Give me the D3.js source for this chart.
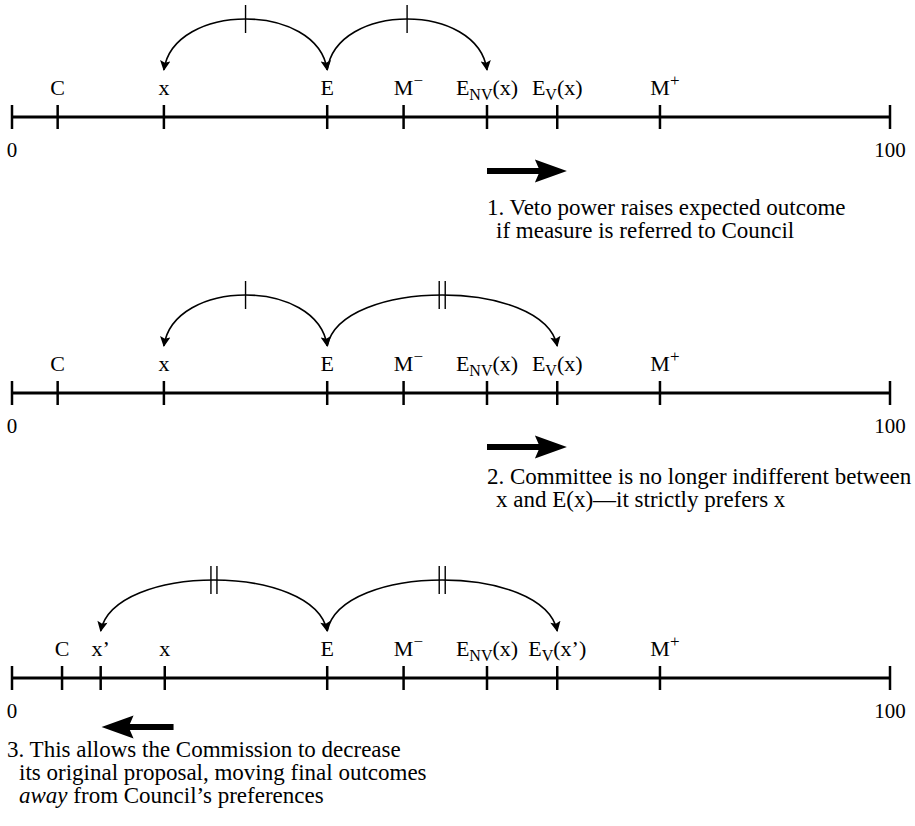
<!DOCTYPE html>
<html>
<head>
<meta charset="utf-8">
<script src="https://cdn.jsdelivr.net/npm/d3@7"></script>
<style>
  body { margin: 0; background: #fff; }
</style>
</head>
<body>
<svg id="chart" width="915" height="826"></svg>
<script>
// Positions on the 0-100 policy line, one array per panel
const labels1 = ['C', 'x', 'E', 'M−', 'ENV(x)', 'EV(x)', 'M+'];
const values1 = [5.2, 17.3, 35.9, 44.6, 54.1, 62.1, 73.8];
const labels2 = ['C', 'x', 'E', 'M−', 'ENV(x)', 'EV(x)', 'M+'];
const values2 = [5.2, 17.3, 35.9, 44.6, 54.1, 62.1, 73.8];
const labels3 = ['C', "x’", 'x', 'E', 'M−', 'ENV(x)', "EV(x’)", 'M+'];
const values3 = [5.7, 10.1, 17.4, 35.9, 44.6, 54.1, 62.1, 73.8];

// Arcs: from -> to (labels), number of equal-distance strokes
const arcs1 = [['E', 'x', 1], ['E', 'ENV(x)', 1]];
const arcs2 = [['E', 'x', 1], ['E', 'EV(x)', 2]];
const arcs3 = [['E', "x’", 2], ['E', "EV(x’)", 2]];

// Shift arrows: [from, to] on the same scale
const shift1 = [54.1, 63.2];
const shift2 = [54.1, 63.2];
const shift3 = [18.4, 10.2];

const notes1 = ['1. Veto power raises expected outcome', 'if measure is referred to Council'];
const notes2 = ['2. Committee is no longer indifferent between', 'x and E(x)—it strictly prefers x'];
const notes3 = ['3. This allows the Commission to decrease', 'its original proposal, moving final outcomes', ['away', ' from Council’s preferences']];

const panels = [
    {labels: labels1, values: values1, arcs: arcs1, shift: shift1, notes: notes1, axisY: 117, noteX: 487, indent: 9, noteY: 215},
    {labels: labels2, values: values2, arcs: arcs2, shift: shift2, notes: notes2, axisY: 393, noteX: 487, indent: 9, noteY: 484},
    {labels: labels3, values: values3, arcs: arcs3, shift: shift3, notes: notes3, axisY: 678, noteX: 7, indent: 12, noteY: 757}
];

const FONT = '"Liberation Serif", "DejaVu Serif", serif';

const svg = d3.select('#chart')
    .attr('font-family', FONT);

const x = d3.scaleLinear()
    .domain([0, 100])
    .range([12, 890]);

svg.append('defs').append('marker')
    .attr('id', 'head')
    .attr('viewBox', '0 0 10 10')
    .attr('refX', 9)
    .attr('refY', 5)
    .attr('markerWidth', 7.5)
    .attr('markerHeight', 6.5)
    .attr('markerUnits', 'strokeWidth')
    .attr('orient', 'auto-start-reverse')
    .append('path')
    .attr('d', 'M0,0 L10,5 L0,10 L2,5 Z')
    .attr('fill', '#000');

// write a label, turning NV / V into subscripts and +/− into superscripts
function addLabel(g, label, px, y) {
    if (label.startsWith('M')) {
        g.append('text')
            .attr('x', px).attr('y', y)
            .attr('text-anchor', 'middle')
            .attr('font-family', FONT)
            .attr('font-size', 22)
            .text('M');
        g.append('text')
            .attr('x', px + 10).attr('y', y - 9)
            .attr('font-family', FONT)
            .attr('font-size', 17)
            .text(label.slice(1));
        return;
    }
    const t = g.append('text')
        .attr('x', px).attr('y', y)
        .attr('text-anchor', 'middle')
        .attr('font-family', FONT)
        .attr('font-size', 22);
    const m = label.match(/^E(NV|V)(.*)$/);
    if (m) {
        t.append('tspan').text('E');
        t.append('tspan').attr('dy', 5).attr('font-size', 16).text(m[1]);
        t.append('tspan').attr('dy', -5).text(m[2]);
    } else {
        t.text(label);
    }
}

panels.forEach(p => {
    const g = svg.append('g').attr('transform', `translate(0,${p.axisY})`);

    // axis line with ticks
    g.append('line')
        .attr('x1', x(0)).attr('x2', x(100))
        .attr('y1', 0).attr('y2', 0)
        .attr('stroke', '#000').attr('stroke-width', 3);

    g.selectAll('.tick')
        .data([0, 100].concat(p.values))
        .enter().append('line')
        .attr('class', 'tick')
        .attr('x1', d => x(d)).attr('x2', d => x(d))
        .attr('y1', -12).attr('y2', 12)
        .attr('stroke', '#000').attr('stroke-width', 2.5);

    [0, 100].forEach(v => {
        g.append('text')
            .attr('x', x(v)).attr('y', 40)
            .attr('text-anchor', 'middle')
            .attr('font-family', FONT)
            .attr('font-size', 21)
            .text(v);
    });

    p.labels.forEach((lab, i) => addLabel(g, lab, x(p.values[i]), -22));

    // arcs between points
    const pos = lab => x(p.values[p.labels.indexOf(lab)]);
    const tipY = -47, peakY = -98;
    const cy = (8 * peakY - 2 * tipY) / 6;
    p.arcs.forEach(([from, to, marks], k) => {
        const x0 = pos(from), x1 = pos(to);
        const d = x1 - x0;
        g.append('path')
            .attr('d', `M${x0},${tipY} C${x0 + d * 0.06},${cy} ${x1 - d * 0.06},${cy} ${x1},${tipY}`)
            .attr('fill', 'none')
            .attr('stroke', '#000')
            .attr('stroke-width', 1.6)
            .attr('marker-end', 'url(#head)')
            .attr('marker-start', k === 0 ? 'url(#head)' : null);
        const mid = (x0 + x1) / 2;
        const offs = marks === 1 ? [0] : [-3, 3];
        offs.forEach(o => {
            g.append('line')
                .attr('x1', mid + o).attr('x2', mid + o)
                .attr('y1', peakY - 14).attr('y2', peakY + 14)
                .attr('stroke', '#000').attr('stroke-width', 1.4);
        });
    });

    // bold shift arrow
    const ay = p.axisY === 678 ? 49 : 54;
    const [s0, s1] = p.shift;
    const dir = Math.sign(x(s1) - x(s0));
    const xt = x(s1), xb = xt - dir * 30;
    g.append('line')
        .attr('x1', x(s0)).attr('x2', xb + dir * 4)
        .attr('y1', ay).attr('y2', ay)
        .attr('stroke', '#000').attr('stroke-width', 6);
    g.append('path')
        .attr('d', `M${xt},${ay} L${xb - dir * 2},${ay - 11.5} L${xb + dir * 3},${ay} L${xb - dir * 2},${ay + 11.5} Z`)
        .attr('fill', '#000');

    // explanatory note
    p.notes.forEach((line, i) => {
        const t = svg.append('text')
            .attr('x', p.noteX + (i > 0 ? p.indent : 0))
            .attr('y', p.noteY + i * 23)
            .attr('font-family', FONT)
            .attr('font-size', 23);
        if (Array.isArray(line)) {
            t.append('tspan').attr('font-style', 'italic').text(line[0]);
            t.append('tspan').text(line[1]);
        } else {
            t.text(line);
        }
    });
});
</script>
</body>
</html>
